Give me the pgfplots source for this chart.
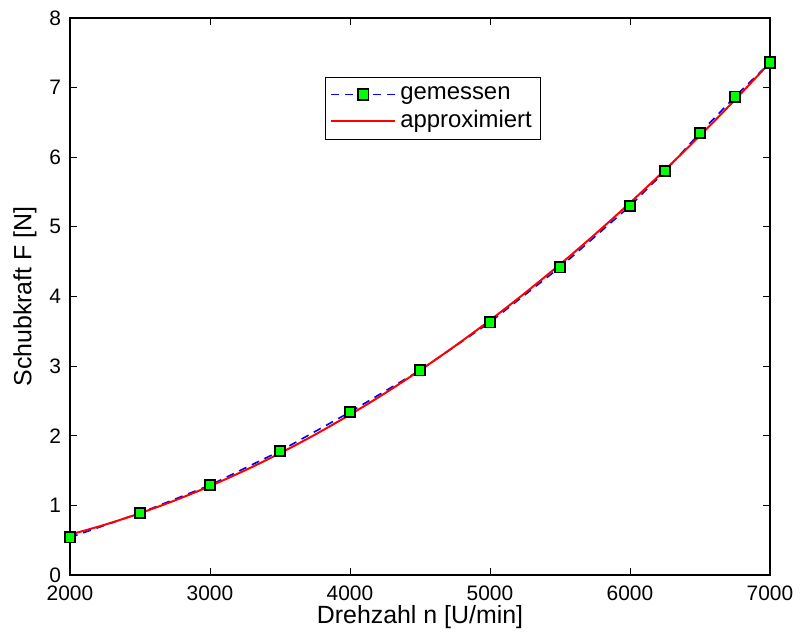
\documentclass[border=0pt]{standalone}
\usepackage{fontspec}
\setmainfont{Liberation Sans}
\usepackage{pgfplots}
\pgfplotsset{compat=1.18}

\begin{document}
\begin{tikzpicture}
\begin{axis}[
  name=ax,
  scale only axis,
  width=350bp, height=278.5bp,
  xmin=2000, xmax=7000, ymin=0, ymax=8,
  xtick={2000,3000,...,7000},
  ytick={0,1,...,8},
  tick align=inside,
  major tick length=3.5bp,
  axis line style={line width=0.6pt},
  every tick/.style={line width=0.5pt, black},
  /pgf/number format/assume math mode=true,
  /pgf/number format/1000 sep={},
  scaled x ticks=false,
  tick label style={font=\fontsize{10.5}{12}\selectfont},
  xticklabel style={yshift=-2bp},
  yticklabel style={xshift=-1bp},
  label style={font=\fontsize{12.5}{14}\selectfont},
  xlabel={Drehzahl n [U/min]},
  ylabel={Schubkraft F [N]},
  xlabel style={yshift=4.5bp},
  ylabel style={yshift=-0.5bp},
  legend style={
    at={(0.364,0.894)}, anchor=north west,
    draw=black, line width=0.5pt,
    font=\fontsize{12}{14}\selectfont,
    row sep=0bp, inner sep=2.5bp,
    legend cell align=left,
  },
  legend image code/.code={
    \draw[mark repeat=2, mark phase=2, #1]
      plot coordinates {(0bp,0bp) (16bp,0bp) (32bp,0bp)};
  },
]
% measured thrust
\addplot[blue, line width=0.8pt, dash pattern=on 4bp off 3bp,
  mark=square*, mark size=2.6bp,
  mark options={solid, fill=green, draw=black, line width=0.9pt}]
  coordinates {
  (2000,0.54) (2500,0.89) (3000,1.29) (3500,1.78) (4000,2.34)
  (4500,2.94) (5000,3.63) (5500,4.42) (6000,5.30) (6250,5.80)
  (6500,6.35) (6750,6.87) (7000,7.36)
  };
\addlegendentry{gemessen}
% fitted curve
\addplot[red, line width=1pt, smooth] coordinates {
  (2000,0.580) (2250,0.723) (2500,0.887) (2750,1.072) (3000,1.277)
  (3250,1.503) (3500,1.749) (3750,2.016) (4000,2.303) (4250,2.611)
  (4500,2.940) (4750,3.289) (5000,3.659) (5250,4.050) (5500,4.461)
  (5750,4.893) (6000,5.345) (6250,5.818) (6500,6.311) (6750,6.825)
  (7000,7.360)
  };
\addlegendentry{approximiert}
\end{axis}
\pgfresetboundingbox
\path ([xshift=-35bp,yshift=-30.5bp]ax.south west) rectangle ([xshift=15bp,yshift=9bp]ax.north east);
\end{tikzpicture}
\end{document}
